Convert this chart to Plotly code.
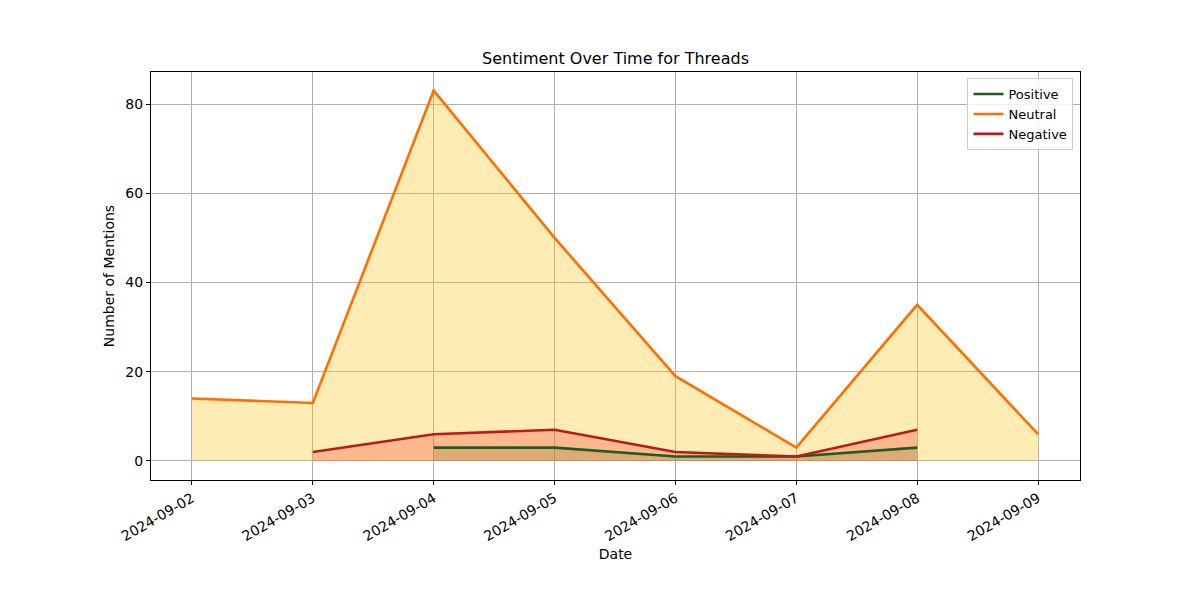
import pandas as pd
import plotly.graph_objects as go

dates = pd.to_datetime([
    "2024-09-02", "2024-09-03", "2024-09-04", "2024-09-05",
    "2024-09-06", "2024-09-07", "2024-09-08", "2024-09-09",
])
neutral = [14, 13, 83, 50, 19, 3, 35, 6]
negative_dates = dates[1:7]
negative = [2, 6, 7, 2, 1, 7]
positive_dates = dates[2:7]
positive = [3, 3, 1, 1, 3]

fig = go.Figure()

# fills first so the lines sit on top
fills = [
    (dates, neutral, "rgba(255,193,7,0.3)"),
    (negative_dates, negative, "rgba(244,67,54,0.3)"),
    (positive_dates, positive, "rgba(152,135,67,0.3)"),
]
for x, y, c in fills:
    fig.add_trace(
        go.Scatter(
            x=x, y=y, mode="lines", fill="tozeroy",
            fillcolor=c, line=dict(width=0),
            showlegend=False, hoverinfo="skip"
        )
    )

lines = [
    ("Positive", positive_dates, positive, "#1b5e20"),
    ("Neutral", dates, neutral, "#ff6f00"),
    ("Negative", negative_dates, negative, "#b71c1c"),
]
for name, x, y, c in lines:
    fig.add_trace(
        go.Scatter(
            x=x, y=y, mode="lines", name=name,
            line=dict(color=c, width=2.6)
        )
    )

day = pd.Timedelta(days=1)
x_range = [dates[0] - 0.339 * day, dates[-1] + 0.347 * day]

# page body adds an 8px offset, so margins are shifted to compensate
fig.update_layout(
    width=1200,
    height=600,
    paper_bgcolor="white",
    plot_bgcolor="white",
    font=dict(family="DejaVu Sans", size=14, color="black"),
    margin=dict(l=143, r=128, t=64, b=128, autoexpand=False),
    title=dict(
        text="Sentiment Over Time for Threads",
        x=0.5, xanchor="center", xref="paper",
        y=1 - 50 / 600, yanchor="middle",
        font=dict(size=16)
    ),
    legend=dict(
        x=0.993, y=0.985, xanchor="right", yanchor="top",
        bgcolor="rgba(255,255,255,0.8)",
        bordercolor="#cccccc", borderwidth=1,
        font=dict(size=13),
        tracegroupgap=0
    ),
    showlegend=True
)

fig.update_xaxes(
    type="date",
    range=x_range,
    tickvals=list(dates),
    tickformat="%Y-%m-%d",
    tickangle=-30,
    tickfont=dict(size=14),
    showgrid=True, gridcolor="#b0b0b0", gridwidth=1,
    showline=True, linecolor="black", linewidth=1, mirror=True,
    ticks="outside", ticklen=4, tickcolor="black",
    zeroline=False,
    automargin=False,
    title=dict(text="Date", standoff=6, font=dict(size=14))
)

fig.update_yaxes(
    range=[-4.26, 87.17],
    tickvals=[0, 20, 40, 60, 80],
    tickfont=dict(size=14),
    showgrid=True, gridcolor="#b0b0b0", gridwidth=1,
    showline=True, linecolor="black", linewidth=1, mirror=True,
    ticks="outside", ticklen=4, tickcolor="black",
    zeroline=False,
    automargin=False,
    title=dict(text="Number of Mentions", standoff=7, font=dict(size=14))
)

fig.write_html("out.html")
